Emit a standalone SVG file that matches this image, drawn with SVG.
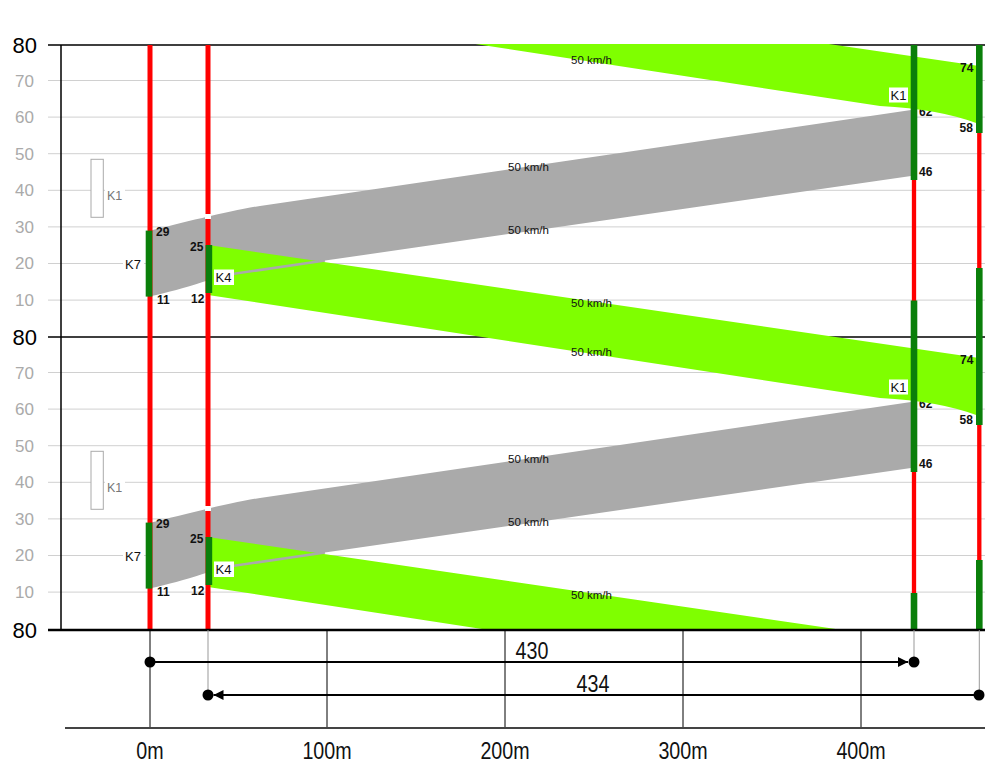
<svg xmlns="http://www.w3.org/2000/svg" width="985" height="768" viewBox="0 0 985 768">
<style>
.grid{stroke:#d0d0d0;stroke-width:1;fill:none}
.ax{stroke:#000;stroke-width:1.5;fill:none}
.ylab{font-family:"Liberation Sans",Arial,sans-serif;font-size:17px;fill:#aaaaaa;text-anchor:end}
.ylab80{font-family:"Liberation Sans",Arial,sans-serif;font-size:22px;fill:#000;text-anchor:end}
.num{font-family:"Liberation Sans",Arial,sans-serif;font-size:12px;font-weight:bold;fill:#111}
.spd{font-family:"Liberation Sans",Arial,sans-serif;font-size:11.5px;fill:#111}
.klab{font-family:"Liberation Sans",Arial,sans-serif;font-size:13px;fill:#111}
.kgray{font-family:"Liberation Sans",Arial,sans-serif;font-size:12.5px;fill:#777}
.big{font-family:"Liberation Sans",Arial,sans-serif;font-size:24px;fill:#111;text-anchor:middle}
.red{stroke:#ff0000;fill:none}
.sig{fill:#0a7f0a}
.gband{fill:#7fff00}
.grey{fill:#aaaaaa}
.wbox{fill:#fff}
.tick{stroke:#000;stroke-width:1}
.gtick{stroke:#999;stroke-width:1}
.dim{stroke:#000;stroke-width:2;fill:none}
</style>
<defs>
<clipPath id="plot"><rect x="40" y="44" width="945" height="585.5"/></clipPath>
<marker id="arr" viewBox="0 0 10 10" refX="10" refY="5" markerWidth="10" markerHeight="10" markerUnits="userSpaceOnUse" orient="auto"><path d="M0,0 L10,5 L0,10 z" fill="#000"/></marker>
</defs>

<g id="grid">
<path class="grid" d="M48,80.5H985M48,117.1H985M48,153.7H985M48,190.3H985M48,226.9H985M48,263.5H985M48,300.1H985"/>
<path class="grid" d="M48,372.5H985M48,409.1H985M48,445.7H985M48,482.3H985M48,518.9H985M48,555.5H985M48,592.1H985"/>
<path class="ax" d="M48,45H985M48,337H985M61,45V630"/>
</g>

<g id="yaxis">
<text class="ylab80" x="37" y="53">80</text>
<text class="ylab" x="34" y="86.5">70</text>
<text class="ylab" x="34" y="123">60</text>
<text class="ylab" x="34" y="159.5">50</text>
<text class="ylab" x="34" y="196">40</text>
<text class="ylab" x="34" y="232.5">30</text>
<text class="ylab" x="34" y="269">20</text>
<text class="ylab" x="34" y="306">10</text>
<text class="ylab80" x="37" y="345">80</text>
<text class="ylab" x="34" y="378.5">70</text>
<text class="ylab" x="34" y="415">60</text>
<text class="ylab" x="34" y="451.5">50</text>
<text class="ylab" x="34" y="488">40</text>
<text class="ylab" x="34" y="524.5">30</text>
<text class="ylab" x="34" y="561">20</text>
<text class="ylab" x="34" y="598">10</text>
<text class="ylab80" x="37" y="638">80</text>
</g>

<g id="labels-under">
<text class="num" x="919" y="115.5">62</text>
<text class="num" x="919" y="407.5">62</text>
</g>

<g id="bands" clip-path="url(#plot)">
<g id="grey-band-1">
<path class="grey" d="M149,231 C180,223.6 230,210.4 260,206 L911,110 L911,176 L225,275 C212,278 190,288 149,296.5 Z"/>
</g>
<g id="grey-band-2" transform="translate(0,292)">
<path class="grey" d="M149,231 C180,223.6 230,210.4 260,206 L911,110 L911,176 L225,275 C212,278 190,288 149,296.5 Z"/>
</g>
<g id="green-band-0" transform="translate(0,-292)">
<path class="gband" d="M208,245 L979,358 L979,416 Q940,401 880,398 L208,295 Z"/>
</g>
<g id="green-band-1">
<path class="gband" d="M208,245 L979,358 L979,416 Q940,401 880,398 L208,295 Z"/>
</g>
<g id="green-band-2" transform="translate(0,292)">
<path class="gband" d="M208,245 L979,358 L979,416 Q940,401 880,398 L208,295 Z"/>
</g>
<path d="M222,275.5 L325,260.6" stroke="#aaaaaa" stroke-width="2.5"/>
<path d="M222,567.5 L325,552.6" stroke="#aaaaaa" stroke-width="2.5"/>
</g>

<g id="signals">
<path class="red" stroke-width="5" d="M150,45V630M208,45V630"/>
<rect class="wbox" x="205" y="214" width="6" height="5"/>
<rect class="wbox" x="205" y="506" width="6" height="5"/>
<path class="red" stroke-width="4.3" d="M914,45V630M979.3,45V630"/>
<rect class="sig" x="145.7" y="230.6" width="6.6" height="66"/>
<rect class="sig" x="145.7" y="522.6" width="6.6" height="66"/>
<rect class="sig" x="205.6" y="245" width="6.6" height="48"/>
<rect class="sig" x="205.6" y="537" width="6.6" height="48"/>
<rect class="sig" x="910.7" y="45" width="6.6" height="135"/>
<rect class="sig" x="910.7" y="300.5" width="6.6" height="171.5"/>
<rect class="sig" x="910.7" y="593" width="6.6" height="37"/>
<rect class="sig" x="976" y="45" width="6.6" height="88"/>
<rect class="sig" x="976" y="268" width="6.6" height="157"/>
<rect class="sig" x="976" y="560" width="6.6" height="70"/>
</g>

<g id="k1-left">
<rect x="91" y="159.3" width="12.3" height="58" fill="#fff" stroke="#aaa" stroke-width="1"/>
<rect class="wbox" x="105" y="188" width="20" height="13"/>
<text class="kgray" x="107" y="200">K1</text>
<rect x="91" y="451.3" width="12.3" height="58" fill="#fff" stroke="#aaa" stroke-width="1"/>
<rect class="wbox" x="105" y="480" width="20" height="13"/>
<text class="kgray" x="107" y="492">K1</text>
</g>

<g id="k7">
<rect class="wbox" x="123" y="257" width="21" height="14"/>
<text class="klab" x="125" y="269">K7</text>
<rect class="wbox" x="123" y="549" width="21" height="14"/>
<text class="klab" x="125" y="561">K7</text>
<text class="num" x="156" y="235.5">29</text>
<text class="num" x="157" y="303.5">11</text>
<text class="num" x="156" y="527.5">29</text>
<text class="num" x="157" y="595.5">11</text>
</g>

<g id="k4">
<text class="num" x="190" y="250.5">25</text>
<text class="num" x="191" y="302.5">12</text>
<rect class="wbox" x="214" y="269.5" width="20" height="15.5"/>
<text class="klab" x="215.5" y="282">K4</text>
<text class="num" x="190" y="542.5">25</text>
<text class="num" x="191" y="594.5">12</text>
<rect class="wbox" x="214" y="561.5" width="20" height="15.5"/>
<text class="klab" x="215.5" y="574">K4</text>
</g>

<g id="k1-right">
<rect class="wbox" x="889" y="87.5" width="19" height="15"/>
<text class="klab" x="890.5" y="100">K1</text>
<text class="num" x="919" y="175.5">46</text>
<rect class="wbox" x="889" y="379.5" width="19" height="15"/>
<text class="klab" x="890.5" y="392">K1</text>
<text class="num" x="919" y="467.5">46</text>
</g>

<g id="end-signal">
<text class="num" x="960" y="71.5">74</text>
<text class="num" x="959.5" y="131.5">58</text>
<text class="num" x="960" y="363.5">74</text>
<text class="num" x="959.5" y="423.5">58</text>
</g>

<g id="speeds">
<text class="spd" x="571" y="64">50 km/h</text>
<text class="spd" x="508" y="171">50 km/h</text>
<text class="spd" x="508" y="234">50 km/h</text>
<text class="spd" x="571" y="307">50 km/h</text>
<text class="spd" x="571" y="356">50 km/h</text>
<text class="spd" x="508" y="463">50 km/h</text>
<text class="spd" x="508" y="526">50 km/h</text>
<text class="spd" x="571" y="599">50 km/h</text>
</g>

<g id="connectors">
<path d="M48,630H985" stroke="#000" stroke-width="2.5"/>
<path class="tick" d="M150,630V728M327,630V728M505,630V728M683,630V728M861,630V728"/>
<path class="gtick" d="M208,630V695M914,630V662M979.3,630V695"/>
<path d="M65,728H985" stroke="#444" stroke-width="2"/>
<path class="dim" d="M150,662H908" marker-end="url(#arr)"/>
<circle cx="150" cy="662" r="5.5"/>
<circle cx="914" cy="662" r="5.5"/>
<path class="dim" d="M979,695H213.5" marker-end="url(#arr)"/>
<circle cx="979" cy="695" r="5.5"/>
<circle cx="208" cy="695" r="5.5"/>
</g>

<g id="dims">
<text class="big" transform="translate(532,659) scale(0.82,1)">430</text>
<text class="big" transform="translate(593,692) scale(0.82,1)">434</text>
</g>

<g id="xaxis">
<text class="big" transform="translate(150,759) scale(0.82,1)">0m</text>
<text class="big" transform="translate(327,759) scale(0.82,1)">100m</text>
<text class="big" transform="translate(505,759) scale(0.82,1)">200m</text>
<text class="big" transform="translate(683,759) scale(0.82,1)">300m</text>
<text class="big" transform="translate(861,759) scale(0.82,1)">400m</text>
</g>
</svg>
